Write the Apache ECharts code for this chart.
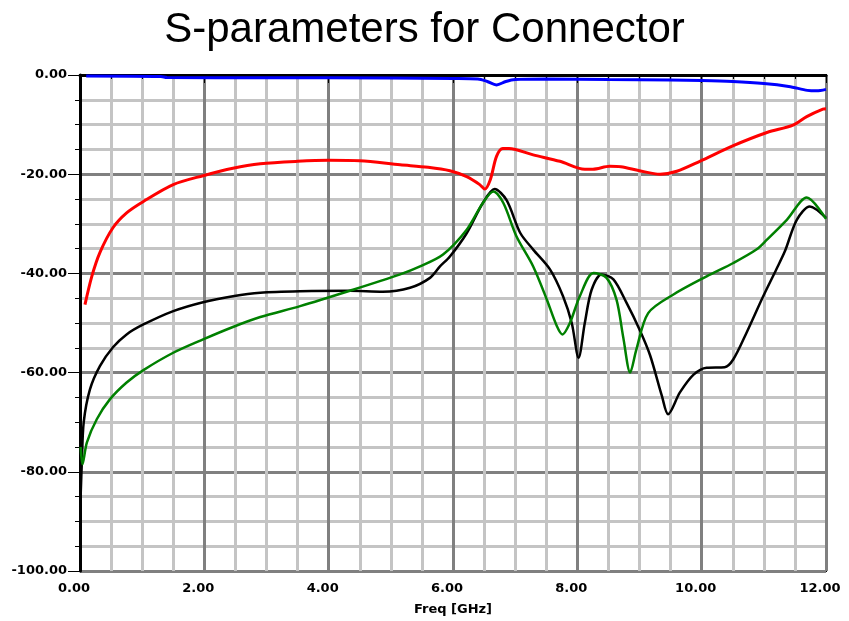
<!DOCTYPE html>
<html>
<head>
<meta charset="utf-8">
<script src="https://cdn.jsdelivr.net/npm/echarts@6/dist/echarts.min.js"></script>
<style>
html,body{margin:0;padding:0;background:#fff;}
#chart{width:849px;height:621px;}
</style>
</head>
<body>
<div id="chart"></div>
<script>
// ---- data (frequency in GHz, magnitude in dB) ----
const titleText = "S-parameters for Connector";
const xAxisName = "Freq [GHz]";

const s21Freq = [0.1, 1.3, 1.4, 3.0, 5.0, 6.0, 6.4, 6.55, 6.7, 6.85, 7.0, 7.5, 8.5, 9.5, 10.0, 10.5, 11.0, 11.4, 11.7, 11.85, 12.0];
const s21Db   = [-0.2, -0.3, -0.5, -0.55, -0.6, -0.7, -0.8, -1.3, -2.0, -1.3, -0.9, -0.8, -0.9, -1.0, -1.1, -1.3, -1.7, -2.3, -3.1, -3.2, -2.9];

const s11Freq = [0.08, 0.19, 0.32, 0.53, 0.75, 1.02, 1.5, 1.98, 2.46, 2.9, 3.5, 4.0, 4.5, 5.15, 5.6, 5.95, 6.22, 6.43, 6.51, 6.6, 6.7, 6.8, 6.9, 7.29, 7.72, 8.12, 8.25, 8.52, 8.7, 9.0, 9.33, 9.6, 9.97, 10.5, 11.05, 11.47, 11.69, 11.95, 12.0];
const s11Db   = [-46.3, -40.6, -35.8, -30.8, -27.8, -25.5, -22.1, -20.3, -18.8, -17.9, -17.4, -17.2, -17.3, -18.1, -18.6, -19.3, -20.5, -22.1, -23.0, -21.1, -16.4, -14.8, -14.8, -16.1, -17.4, -19.0, -19.0, -18.4, -18.5, -19.3, -20.0, -19.4, -17.4, -14.3, -11.6, -10.1, -8.4, -6.9, -6.8];

const s31Freq = [0.01, 0.03, 0.06, 0.16, 0.32, 0.53, 0.75, 1.02, 1.5, 1.98, 2.46, 2.9, 3.54, 4.34, 4.87, 5.31, 5.63, 5.79, 5.95, 6.22, 6.48, 6.67, 6.86, 7.08, 7.29, 7.56, 7.77, 7.91, 8.02, 8.12, 8.23, 8.39, 8.58, 8.79, 9.0, 9.17, 9.36, 9.46, 9.65, 9.87, 10.08, 10.37, 10.51, 10.72, 10.99, 11.2, 11.34, 11.53, 11.74, 12.0];
const s31Db   = [-85, -78, -70, -63.4, -58.7, -54.9, -52.3, -50.3, -47.6, -45.8, -44.6, -43.9, -43.6, -43.5, -43.7, -42.9, -40.9, -38.6, -36.6, -31.9, -25.8, -23.0, -25.2, -31.8, -35.2, -39.2, -44.6, -50.0, -57.0, -50.0, -43.3, -40.2, -41.2, -45.9, -51.3, -56.5, -64.7, -68.4, -64.0, -60.4, -59.0, -58.9, -57.3, -52.0, -44.6, -39.2, -35.5, -29.2, -26.5, -28.8];

const s41Freq = [0.01, 0.04, 0.11, 0.27, 0.48, 0.75, 1.02, 1.5, 1.98, 2.46, 2.9, 3.54, 4.34, 5.15, 5.47, 5.84, 6.22, 6.48, 6.65, 6.81, 7.02, 7.29, 7.51, 7.67, 7.76, 7.88, 8.04, 8.26, 8.47, 8.63, 8.74, 8.85, 8.95, 9.14, 9.54, 10.08, 10.51, 10.88, 11.05, 11.37, 11.69, 12.0];
const s41Db   = [-75, -78.5, -74.1, -69.4, -65.4, -62.0, -59.5, -56.0, -53.3, -50.8, -48.8, -46.6, -43.5, -40.2, -38.6, -36.2, -31.2, -25.8, -23.5, -25.8, -32.5, -38.6, -45.3, -50.6, -52.3, -50.0, -44.6, -39.9, -40.9, -45.3, -53.0, -60.0, -55.3, -48.0, -44.3, -40.6, -37.9, -35.2, -33.2, -29.2, -24.7, -29.0];

const xMin = 0, xMax = 12, xStep = 2;
const yMin = -100, yMax = 0, yStep = 20;

function pairs(xs, ys) { return xs.map((x, i) => [x, ys[i]]); }

const chart = echarts.init(document.getElementById('chart'), null, {renderer: 'canvas'});
const labelFont = {fontFamily: 'DejaVu Sans', fontWeight: 'bold', fontSize: 13, color: '#000'};

function mkSeries(name, xs, ys, color, width) {
  return {
    name: name, type: 'line', data: pairs(xs, ys),
    showSymbol: false, smooth: 0.3,
    lineStyle: {color: color, width: width}, itemStyle: {color: color},
    animation: false, z: 3
  };
}

chart.setOption({
  backgroundColor: '#fff',
  animation: false,
  title: {
    text: titleText, left: 'center', top: 4,
    textStyle: {fontFamily: 'Liberation Sans', fontWeight: 'normal', fontSize: 42, color: '#000'}
  },
  grid: {left: 80, right: 23, top: 75, bottom: 49, show: true, borderColor: '#000', borderWidth: 2, backgroundColor: '#fff'},
  xAxis: {
    type: 'value', min: xMin, max: xMax, interval: xStep,
    name: xAxisName, nameLocation: 'middle', nameGap: 32,
    nameTextStyle: {fontFamily: 'DejaVu Sans', fontWeight: 'bold', fontSize: 13, color: '#000'},
    axisLine: {show: true, lineStyle: {color: '#000', width: 3}},
    axisTick: {show: true, length: 8, lineStyle: {color: '#000', width: 1}},
    minorTick: {show: true, splitNumber: 4, length: 4, lineStyle: {color: '#000', width: 1}},
    splitLine: {show: true, lineStyle: {color: '#808080', width: 3}},
    minorSplitLine: {show: true, lineStyle: {color: '#c4c4c4', width: 3}},
    axisLabel: Object.assign({margin: 11, padding: [0, 12, 0, 0], formatter: v => v.toFixed(2)}, labelFont)
  },
  yAxis: {
    type: 'value', min: yMin, max: yMax, interval: yStep,
    axisLine: {show: true, lineStyle: {color: '#000', width: 3}},
    axisTick: {show: true, length: 12, lineStyle: {color: '#000', width: 1}},
    minorTick: {show: true, splitNumber: 4, length: 5, lineStyle: {color: '#000', width: 1}},
    splitLine: {show: true, lineStyle: {color: '#808080', width: 3}},
    minorSplitLine: {show: true, lineStyle: {color: '#c4c4c4', width: 3}},
    axisLabel: Object.assign({margin: 13, formatter: v => v.toFixed(2)}, labelFont)
  },
  series: [
    mkSeries('S21', s21Freq, s21Db, '#0000ff', 3),
    mkSeries('S11', s11Freq, s11Db, '#ff0000', 3),
    mkSeries('S31', s31Freq, s31Db, '#000000', 2.5),
    mkSeries('S41', s41Freq, s41Db, '#008000', 2.5)
  ]
});
</script>
</body>
</html>
